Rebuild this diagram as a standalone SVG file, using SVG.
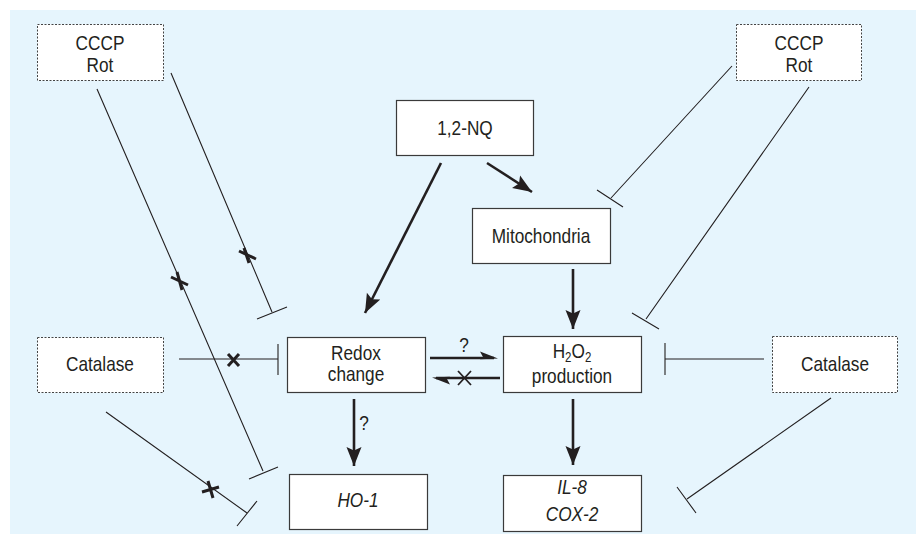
<svg xmlns="http://www.w3.org/2000/svg" width="919" height="536" viewBox="0 0 919 536">
<style>
.bg{fill:#e6f5fd}
.box{fill:#fff;stroke:#3a3a3a;stroke-width:1.2}
.dbox{fill:#fff;stroke:#444;stroke-width:1;stroke-dasharray:2 1.5}
text{font-family:"Liberation Sans",Arial,sans-serif;font-size:21px;fill:#231f20;text-anchor:middle}
.it{font-style:italic}
.arr{stroke:#231f20;stroke-width:2.6;fill:none;marker-end:url(#ah)}
.inh{stroke:#231f20;stroke-width:1.1;fill:none}
.x{stroke:#231f20;stroke-width:3;fill:none;stroke-linecap:butt}
.hp{fill:#231f20}
</style>
<defs>
<marker id="ah" markerUnits="userSpaceOnUse" markerWidth="20" markerHeight="18" viewBox="0 0 20 18" refX="19" refY="9" orient="auto">
<path d="M0,1.5 L19,9 L0,16.5 L3.5,9 z" fill="#231f20"/>
</marker>
</defs>
<rect class="bg" x="10" y="10" width="906" height="524"/>

<g id="cccp-left"><rect class="dbox" x="37.5" y="24.5" width="126" height="56"/><g transform="matrix(0.82,0,0,1,18,0)"><text x="100" y="50">CCCP</text><text x="100" y="72">Rot</text></g></g>
<g id="cccp-right"><rect class="dbox" x="736.5" y="24.5" width="125" height="56"/><g transform="matrix(0.82,0,0,1,143.82,0)"><text x="799" y="50">CCCP</text><text x="799" y="72">Rot</text></g></g>
<g id="nq"><rect class="box" x="396.5" y="100.5" width="137" height="55"/><g transform="matrix(0.82,0,0,1,83.7,0)"><text x="465" y="135">1,2-NQ</text></g></g>
<g id="mito"><rect class="box" x="472.5" y="208.5" width="138" height="55"/><g transform="matrix(0.82,0,0,1,97.38,0)"><text x="541" y="243">Mitochondria</text></g></g>
<g id="catalase-left"><rect class="dbox" x="37.5" y="337.5" width="126" height="55"/><g transform="matrix(0.82,0,0,1,18,0)"><text x="100" y="371">Catalase</text></g></g>
<g id="redox"><rect class="box" x="287.5" y="337.5" width="138" height="55"/><g transform="matrix(0.82,0,0,1,64.08,0)"><text x="356" y="360">Redox</text><text x="356" y="381">change</text></g></g>
<g id="h2o2"><rect class="box" x="503.5" y="336.5" width="138" height="56"/><g transform="matrix(0.82,0,0,1,102.96,0)"><text x="572" y="358">H<tspan font-size="14" dy="4">2</tspan><tspan dy="-4">O</tspan><tspan font-size="14" dy="4">2</tspan></text><text x="572" y="383">production</text></g></g>
<g id="catalase-right"><rect class="dbox" x="772.5" y="336.5" width="125" height="56"/><g transform="matrix(0.82,0,0,1,150.3,0)"><text x="835" y="371">Catalase</text></g></g>
<g id="ho1"><rect class="box" x="289.5" y="474.5" width="138" height="55"/><g transform="matrix(0.82,0,0,1,64.44,0)"><text class="it" x="358" y="507">HO-1</text></g></g>
<g id="il8"><rect class="box" x="503.5" y="475.5" width="138" height="56"/><g transform="matrix(0.82,0,0,1,102.96,0)"><text class="it" x="572" y="494">IL-8</text><text class="it" x="572" y="521">COX-2</text></g></g>

<g id="connectors">
<line class="arr" x1="441" y1="163" x2="365" y2="313"/>
<line class="arr" x1="487" y1="163" x2="532" y2="192"/>
<line class="arr" x1="573" y1="269" x2="573" y2="329"/>
<line class="arr" x1="573" y1="399" x2="573" y2="465"/>
<line class="arr" x1="354" y1="399" x2="354" y2="466"/>
<g transform="matrix(0.82,0,0,1,65.52,0)"><text x="364" y="430" font-size="18">?</text></g>
<line stroke="#231f20" stroke-width="2.6" x1="430" y1="358" x2="494" y2="358"/>
<path class="hp" d="M498,358.5 L480,351.5 L483,357 L480,359.3 z"/>
<g transform="matrix(0.82,0,0,1,83.52,0)"><text x="464" y="352" font-size="18">?</text></g>
<line stroke="#231f20" stroke-width="2.6" x1="500" y1="378" x2="436" y2="378"/>
<path class="hp" d="M432,377.5 L450,384.5 L447,379 L450,376.7 z"/>
<path stroke="#231f20" stroke-width="1.8" fill="none" d="M458,371 L471,385 M471,371 L458,385"/>
<path class="inh" d="M97,89 L263,471 M249,479 L278,467"/>
<path class="inh" d="M171,73 L272,312 M257,319 L287,307"/>
<path class="inh" d="M179,359 L278,359 M278,344 L278,375"/>
<path class="inh" d="M106,412 L247,513 M257,501 L237,526"/>
<path class="inh" d="M732,66 L611,198 M597,190 L623,207"/>
<path class="inh" d="M809,87 L646,319 M632,313 L659,329"/>
<path class="inh" d="M764,359 L665,359 M665,343 L665,375"/>
<path class="inh" d="M831,398 L687,499 M677,487 L696,513"/>
<path class="x" d="M171,277 L188,285 M177,272 L182,290"/>
<path class="x" d="M239,251 L256,259 M244,248 L249,263"/>
<path class="x" d="M202,492 L219,487 M208,481 L213,498"/>
<path class="x" d="M228,354 L239,366 M239,354 L228,366"/>
</g>
</svg>
